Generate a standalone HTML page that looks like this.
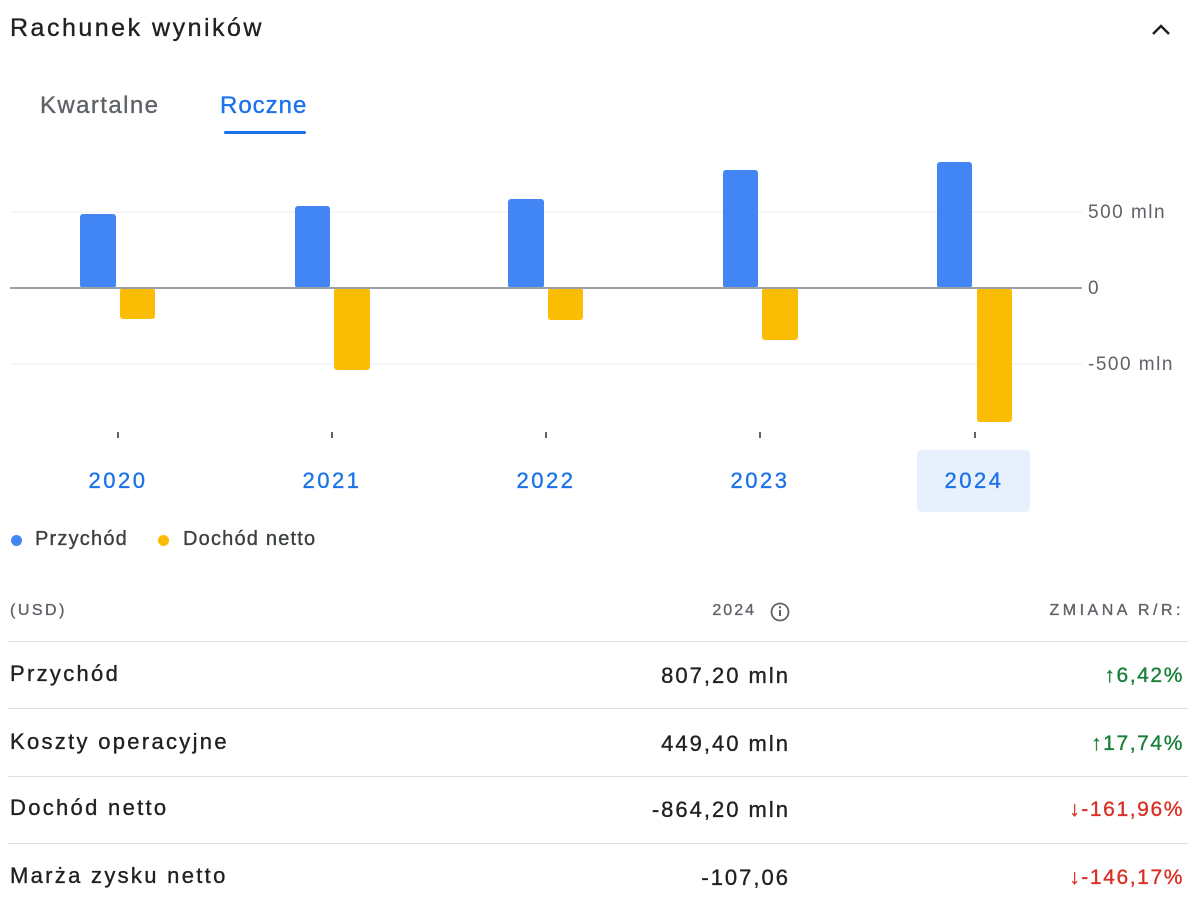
<!DOCTYPE html>
<html><head><meta charset="utf-8"><style>
body{margin:0;width:1200px;height:905px;background:#fff;font-family:"Liberation Sans",sans-serif;position:relative;overflow:hidden;color:#202124}
.a{position:absolute;white-space:nowrap;-webkit-text-stroke:0.35px currentColor}
.hr{position:absolute;left:8px;width:1180px;height:1px;background:#e0e0e0}
.lbl{font-size:22px;color:#202124;letter-spacing:2.3px}
.val{font-size:22px;right:410px;text-align:right;letter-spacing:2px}
.pct{font-size:21px;right:16px;text-align:right;letter-spacing:1.6px}
.g{color:#188038}.r{color:#d93025}
.yr{font-size:22px;color:#1a73e8;width:120px;text-align:center;top:468px;letter-spacing:2.5px}
</style></head><body>
<div class="a" style="left:10px;top:14px;font-size:25px;letter-spacing:2.5px;">Rachunek wyników</div>
<svg class="a" style="left:1150px;top:20px" width="24" height="20"><polyline points="3,14 11,6 19,14" fill="none" stroke="#202124" stroke-width="2.5"/></svg>
<div class="a" style="left:40px;top:92px;font-size:24px;color:#5f6368;letter-spacing:1.4px">Kwartalne</div>
<div class="a" style="left:220px;top:92px;font-size:24px;color:#1a73e8;letter-spacing:1px">Roczne</div>
<div class="a" style="left:224px;top:131px;width:82px;height:3px;background:#1a73e8;border-radius:2px"></div>
<svg class="a" style="left:0;top:0" width="1200" height="450">
<line x1="10" y1="212" x2="1082" y2="212" stroke="#eeeeee"/>
<line x1="10" y1="364" x2="1082" y2="364" stroke="#eeeeee"/>
<g fill="#4285f4">
<rect x="80" y="214" width="36" height="74" rx="3"/>
<rect x="295" y="206" width="35" height="82" rx="3"/>
<rect x="508" y="199" width="36" height="89" rx="3"/>
<rect x="723" y="170" width="35" height="118" rx="3"/>
<rect x="937" y="162" width="35" height="126" rx="3"/>
</g>
<g fill="#fbbc04">
<rect x="120" y="288" width="35" height="31" rx="3"/>
<rect x="334" y="288" width="36" height="82" rx="3"/>
<rect x="548" y="288" width="35" height="32" rx="3"/>
<rect x="762" y="288" width="36" height="52" rx="3"/>
<rect x="977" y="288" width="35" height="134" rx="3"/>
</g>
<line x1="10" y1="288" x2="1082" y2="288" stroke="#9aa0a6" stroke-width="2"/>
<g stroke="#5f6368" stroke-width="2"><line x1="118" y1="432" x2="118" y2="438"/><line x1="332" y1="432" x2="332" y2="438"/><line x1="546" y1="432" x2="546" y2="438"/><line x1="760" y1="432" x2="760" y2="438"/><line x1="975" y1="432" x2="975" y2="438"/></g>
<g font-family="Liberation Sans" font-size="19" fill="#5f6368" letter-spacing="1.5"><text x="1088" y="218">500 mln</text><text x="1088" y="294">0</text><text x="1088" y="370">-500 mln</text></g>
</svg>
<div class="a" style="left:917px;top:450px;width:113px;height:62px;background:#e8f0fe;border-radius:4px"></div>
<div class="a yr" style="left:58px">2020</div>
<div class="a yr" style="left:272px">2021</div>
<div class="a yr" style="left:486px">2022</div>
<div class="a yr" style="left:700px">2023</div>
<div class="a yr" style="left:914px">2024</div>
<div class="a" style="left:11px;top:535px;width:11px;height:11px;border-radius:50%;background:#4285f4"></div>
<div class="a" style="left:35px;top:528px;font-size:20px;color:#3c4043;letter-spacing:1.2px">Przychód</div>
<div class="a" style="left:158px;top:535px;width:11px;height:11px;border-radius:50%;background:#fbbc04"></div>
<div class="a" style="left:183px;top:528px;font-size:20px;color:#3c4043;letter-spacing:1.2px">Dochód netto</div>
<div class="a" style="left:10px;top:602px;font-size:16px;color:#5f6368;letter-spacing:2.5px">(USD)</div>
<div class="a" style="right:444px;top:602px;font-size:16px;color:#5f6368;letter-spacing:2px">2024</div>
<svg class="a" style="left:769px;top:601px" width="22" height="22"><circle cx="11" cy="11" r="8.5" fill="none" stroke="#5f6368" stroke-width="1.8"/><line x1="11" y1="9" x2="11" y2="15" stroke="#5f6368" stroke-width="2"/><circle cx="11" cy="6.3" r="1.2" fill="#5f6368"/></svg>
<div class="a" style="right:16px;top:602px;font-size:16px;color:#5f6368;letter-spacing:3.5px">ZMIANA R/R:</div>
<div class="hr" style="top:641px"></div><div class="hr" style="top:708px"></div><div class="hr" style="top:776px"></div><div class="hr" style="top:843px"></div>
<div class="a lbl" style="left:10px;top:661px">Przychód</div><div class="a val" style="top:663px">807,20 mln</div><div class="a pct g" style="top:664px">↑6,42%</div>
<div class="a lbl" style="left:10px;top:729px">Koszty operacyjne</div><div class="a val" style="top:731px">449,40 mln</div><div class="a pct g" style="top:732px">↑17,74%</div>
<div class="a lbl" style="left:10px;top:795px">Dochód netto</div><div class="a val" style="top:797px">-864,20 mln</div><div class="a pct r" style="top:798px">↓-161,96%</div>
<div class="a lbl" style="left:10px;top:863px">Marża zysku netto</div><div class="a val" style="top:865px">-107,06</div><div class="a pct r" style="top:866px">↓-146,17%</div>
</body></html>
